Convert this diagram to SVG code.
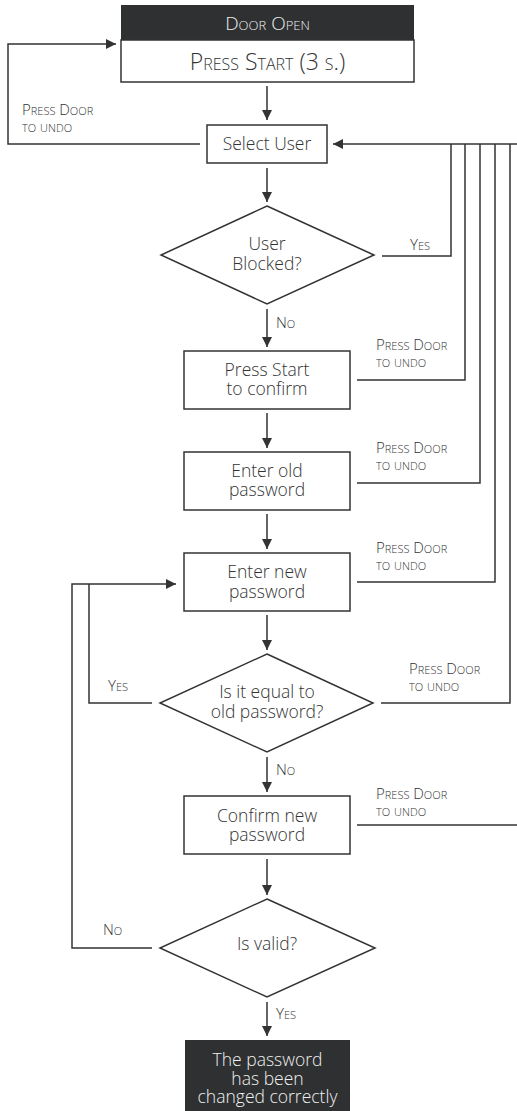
<svg xmlns="http://www.w3.org/2000/svg" width="517" height="1111" viewBox="0 0 517 1111">
<defs>
<style>
.t{font-family:"Open Sans","Liberation Sans",sans-serif;font-weight:300;fill:#333;text-anchor:middle}
.b{font-size:17.5px}
.sc{font-family:"Open Sans","Liberation Sans",sans-serif;font-weight:300;fill:#333;font-variant:small-caps;font-size:15px}
.box{fill:#fff;stroke:#333;stroke-width:1.5}
.dark{fill:#2e3032}
.c{fill:none;stroke:#333;stroke-width:1.5}
</style>
<marker id="ah" markerUnits="userSpaceOnUse" markerWidth="10" markerHeight="10" refX="10" refY="5" orient="auto">
<path d="M0,0 L10,5 L0,10 z" fill="#333"/>
</marker>
</defs>
<rect width="517" height="1111" fill="#fff"/>

<g id="connectors">
<path class="c" d="M267,86 V120" marker-end="url(#ah)"/>
<path class="c" d="M267,168 V202" marker-end="url(#ah)"/>
<path class="c" d="M267,309 V347" marker-end="url(#ah)"/>
<path class="c" d="M267,413 V448" marker-end="url(#ah)"/>
<path class="c" d="M267,514 V549" marker-end="url(#ah)"/>
<path class="c" d="M267,615 V650" marker-end="url(#ah)"/>
<path class="c" d="M267,757 V792" marker-end="url(#ah)"/>
<path class="c" d="M267,859 V895" marker-end="url(#ah)"/>
<path class="c" d="M267,1002 V1036" marker-end="url(#ah)"/>
<path class="c" d="M200,144 H8 V44 H116" marker-end="url(#ah)"/>
<path class="c" d="M517,144 H333" marker-end="url(#ah)"/>
<path class="c" d="M382,256 H451 V144"/>
<path class="c" d="M357,380 H465 V144"/>
<path class="c" d="M357,483 H480 V144"/>
<path class="c" d="M357,582 H495 V144"/>
<path class="c" d="M381,703 H510 V144"/>
<path class="c" d="M357,825 H517"/>
<path class="c" d="M152,703 H89 V584"/>
<path class="c" d="M152,948 H72 V584 H176" marker-end="url(#ah)"/>
<text class="sc" x="22" y="115">Press Door<tspan x="22" dy="17">to undo</tspan></text>
<text class="sc" x="410" y="250">Yes</text>
<text class="sc" x="276" y="328">No</text>
<text class="sc" x="376" y="350">Press Door<tspan x="376" dy="17">to undo</tspan></text>
<text class="sc" x="376" y="453">Press Door<tspan x="376" dy="17">to undo</tspan></text>
<text class="sc" x="376" y="553">Press Door<tspan x="376" dy="17">to undo</tspan></text>
<text class="sc" x="409" y="674">Press Door<tspan x="409" dy="17">to undo</tspan></text>
<text class="sc" x="108" y="691">Yes</text>
<text class="sc" x="276" y="775">No</text>
<text class="sc" x="376" y="799">Press Door<tspan x="376" dy="17">to undo</tspan></text>
<text class="sc" x="103" y="935">No</text>
<text class="sc" x="276" y="1019">Yes</text>
</g>

<g id="door-open">
<rect class="dark" x="121" y="5" width="293" height="35"/>
<rect class="box" x="121" y="40" width="293" height="42"/>
<text class="t" x="267.5" y="30" style="font-size:19px;font-variant:small-caps;fill:#f0f0f0">Door Open</text>
<text class="t" x="267.5" y="70" style="font-size:23px;font-variant:small-caps">Press Start (3 s.)</text>
</g>

<g id="select-user">
<rect class="box" x="207" y="125" width="120" height="38"/>
<text class="t b" x="267" y="150">Select User</text>
</g>

<g id="user-blocked">
<polygon class="box" points="267,206 374,255 267,304 161,255"/>
<text class="t b" x="267" y="250">User<tspan x="267" dy="20">Blocked?</tspan></text>
</g>

<g id="press-start-confirm">
<rect class="box" x="184" y="351" width="166" height="58"/>
<text class="t b" x="267" y="376">Press Start<tspan x="267" dy="19">to confirm</tspan></text>
</g>

<g id="enter-old">
<rect class="box" x="184" y="452" width="166" height="58"/>
<text class="t b" x="267" y="477">Enter old<tspan x="267" dy="19">password</tspan></text>
</g>

<g id="enter-new">
<rect class="box" x="184" y="553" width="166" height="58"/>
<text class="t b" x="267" y="578">Enter new<tspan x="267" dy="20">password</tspan></text>
</g>

<g id="equal-old">
<polygon class="box" points="267,654 373,703 267,752 160,703"/>
<text class="t b" x="267" y="698">Is it equal to<tspan x="267" dy="20">old password?</tspan></text>
</g>

<g id="confirm-new">
<rect class="box" x="184" y="796" width="166" height="58"/>
<text class="t b" x="267" y="822">Confirm new<tspan x="267" dy="19">password</tspan></text>
</g>

<g id="is-valid">
<polygon class="box" points="267,899 375,948 267,997 160,948"/>
<text class="t b" x="267" y="950">Is valid?</text>
</g>

<g id="done">
<rect class="dark" x="185" y="1040" width="165" height="71"/>
<text class="t b" x="267.5" y="1066" style="fill:#f0f0f0">The password<tspan x="267.5" dy="19">has been</tspan><tspan x="267.5" dy="18">changed correctly</tspan></text>
</g>
</svg>
